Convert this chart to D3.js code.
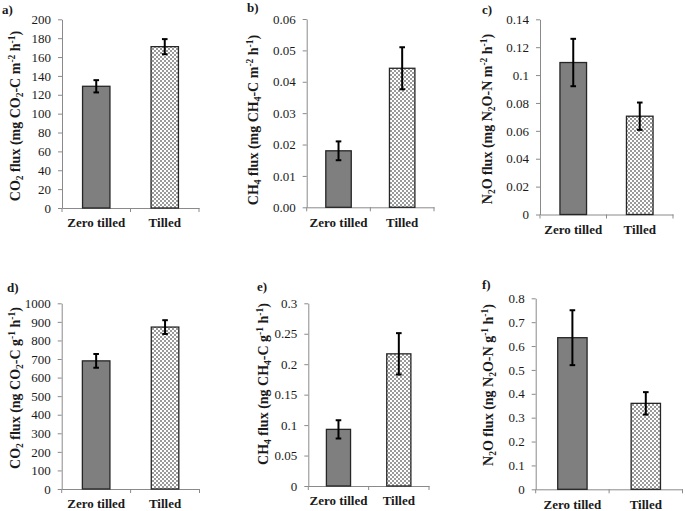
<!DOCTYPE html>
<html>
<head>
<meta charset="utf-8">
<script src="https://cdn.jsdelivr.net/npm/d3@7"></script>
<style>
  html, body { margin: 0; padding: 0; background: #fff; }
  svg { display: block; font-family: "Liberation Serif", "Times New Roman", serif; }
</style>
</head>
<body>
<svg id="chart" width="685" height="511"></svg>
<script>
// ---------------- DATA ----------------
const categories = ["Zero tilled", "Tilled"];
const panelLabels = ["a)", "b)", "c)", "d)", "e)", "f)"];
const yTitles = [
  "CO_{2} flux (mg CO_{2}-C m^{-2} h^{-1})",
  "CH_{4} flux (mg CH_{4}-C m^{-2} h^{-1})",
  "N_{2}O flux (mg N_{2}O-N m^{-2} h^{-1})",
  "CO_{2} flux (ng CO_{2}-C g^{-1} h^{-1})",
  "CH_{4} flux (ng CH_{4}-C g^{-1} h^{-1})",
  "N_{2}O flux (ng N_{2}O-N g^{-1} h^{-1})"
];
const co2Area = [129, 171];
const co2AreaErr = [6.5, 8];
const ch4Area = [0.018, 0.0443];
const ch4AreaErr = [0.003, 0.0067];
const n2oArea = [0.109, 0.0705];
const n2oAreaErr = [0.017, 0.0098];
const co2Soil = [690, 872];
const co2SoilErr = [37, 37];
const ch4Soil = [0.093, 0.217];
const ch4SoilErr = [0.015, 0.034];
const n2oSoil = [0.635, 0.36];
const n2oSoilErr = [0.115, 0.047];

const ticksA = [0, 20, 40, 60, 80, 100, 120, 140, 160, 180, 200];
const tickLabelsA = ["0", "20", "40", "60", "80", "100", "120", "140", "160", "180", "200"];
const ticksB = [0, 0.01, 0.02, 0.03, 0.04, 0.05, 0.06];
const tickLabelsB = ["0.00", "0.01", "0.02", "0.03", "0.04", "0.05", "0.06"];
const ticksC = [0, 0.02, 0.04, 0.06, 0.08, 0.1, 0.12, 0.14];
const tickLabelsC = ["0", "0.02", "0.04", "0.06", "0.08", "0.1", "0.12", "0.14"];
const ticksD = [0, 100, 200, 300, 400, 500, 600, 700, 800, 900, 1000];
const tickLabelsD = ["0", "100", "200", "300", "400", "500", "600", "700", "800", "900", "1000"];
const ticksE = [0, 0.05, 0.1, 0.15, 0.2, 0.25, 0.3];
const tickLabelsE = ["0", "0.05", "0.1", "0.15", "0.2", "0.25", "0.3"];
const ticksF = [0, 0.1, 0.2, 0.3, 0.4, 0.5, 0.6, 0.7, 0.8];
const tickLabelsF = ["0", "0.1", "0.2", "0.3", "0.4", "0.5", "0.6", "0.7", "0.8"];

// ---------------- LAYOUT ----------------
const layouts = [
  { x0: 62,    x1: 199,   yTop: 19.3,  yBot: 208,   tx: 15,  ty: 116, lx: 2,   ly: 14 },
  { x0: 306.7, x1: 434,   yTop: 19,    yBot: 207.3, tx: 253, ty: 120, lx: 247, ly: 12 },
  { x0: 540,   x1: 673,   yTop: 19.3,  yBot: 214.5, tx: 487, ty: 119, lx: 482, ly: 14 },
  { x0: 61.7,  x1: 199.5, yTop: 303.3, yBot: 489,   tx: 15,  ty: 388, lx: 7,   ly: 292 },
  { x0: 308.3, x1: 429,   yTop: 303.3, yBot: 486,   tx: 263, ty: 384, lx: 257, ly: 291 },
  { x0: 535.7, x1: 682.5, yTop: 298.3, yBot: 489.3, tx: 488, ty: 385, lx: 482, ly: 289 }
];

const panels = [
  { values: co2Area, errs: co2AreaErr, ticks: ticksA, labels: tickLabelsA },
  { values: ch4Area, errs: ch4AreaErr, ticks: ticksB, labels: tickLabelsB },
  { values: n2oArea, errs: n2oAreaErr, ticks: ticksC, labels: tickLabelsC },
  { values: co2Soil, errs: co2SoilErr, ticks: ticksD, labels: tickLabelsD },
  { values: ch4Soil, errs: ch4SoilErr, ticks: ticksE, labels: tickLabelsE },
  { values: n2oSoil, errs: n2oSoilErr, ticks: ticksF, labels: tickLabelsF }
].map((p, i) => Object.assign(p, layouts[i], { title: yTitles[i], label: panelLabels[i] }));

const axisColor = "#8a8a8a";
const fontFam = "'Liberation Serif', 'Times New Roman', serif";
const svg = d3.select("#chart");

// checker pattern
const defs = svg.append("defs");
const pat = defs.append("pattern").attr("id", "checker")
  .attr("patternUnits", "userSpaceOnUse").attr("width", 4).attr("height", 4);
pat.append("rect").attr("width", 4).attr("height", 4).attr("fill", "#ffffff");
pat.append("rect").attr("x", 0).attr("y", 0).attr("width", 2).attr("height", 2).attr("fill", "#9a9a9a");
pat.append("rect").attr("x", 2).attr("y", 2).attr("width", 2).attr("height", 2).attr("fill", "#9a9a9a");

const fills = ["#7f7f7f", "url(#checker)"];

function richText(sel, str) {
  const re = /([_^])\{([^}]*)\}/g;
  let last = 0, m;
  const parts = [];
  while ((m = re.exec(str)) !== null) {
    if (m.index > last) parts.push({ t: str.slice(last, m.index), k: "n" });
    parts.push({ t: m[2], k: m[1] === "_" ? "sub" : "sup" });
    last = re.lastIndex;
  }
  if (last < str.length) parts.push({ t: str.slice(last), k: "n" });
  let offset = 0;
  parts.forEach(p => {
    let target = p.k === "sub" ? 3 : p.k === "sup" ? -5 : 0;
    const ts = sel.append("tspan").text(p.t).attr("dy", target - offset);
    if (p.k !== "n") ts.attr("font-size", 9.5);
    offset = target;
  });
}

panels.forEach(p => {
  const g = svg.append("g");
  const y = d3.scaleLinear().domain([p.ticks[0], p.ticks[p.ticks.length - 1]]).range([p.yBot, p.yTop]);
  const x = d3.scaleBand().domain(categories).range([p.x0, p.x1]).paddingInner(0.6).paddingOuter(0.3);

  // y axis
  const ya = g.append("g").attr("transform", `translate(${p.x0},0)`)
    .call(d3.axisLeft(y).tickValues(p.ticks).tickFormat((d, i) => p.labels[i]).tickSize(4).tickSizeOuter(0).tickPadding(7));
  ya.attr("font-family", fontFam);
  ya.select(".domain").attr("stroke", axisColor).attr("stroke-width", 1);
  ya.selectAll(".tick line").attr("stroke", axisColor);
  ya.selectAll(".tick text").attr("font-size", 13).attr("fill", "#1a1a1a");

  // x axis
  const xa = g.append("g").attr("transform", `translate(0,${p.yBot})`)
    .call(d3.axisBottom(x).tickSize(0).tickSizeOuter(0).tickPadding(10));
  xa.attr("font-family", fontFam);
  xa.select(".domain").attr("stroke", axisColor).attr("stroke-width", 1);
  xa.selectAll(".tick text").attr("font-size", 13).attr("font-weight", "bold").attr("fill", "#1a1a1a");
  const r = x.range();
  const bounds = [r[0], r[0] + x.step(), r[1]];
  xa.selectAll(".bound").data(bounds).enter().append("line")
    .attr("x1", d => d).attr("x2", d => d).attr("y1", 0).attr("y2", 4)
    .attr("stroke", axisColor);

  // bars
  g.selectAll(".bar").data(p.values).enter().append("rect")
    .attr("x", (d, i) => x(categories[i]))
    .attr("width", x.bandwidth())
    .attr("y", d => y(d))
    .attr("height", d => y(0) - y(d))
    .attr("fill", (d, i) => fills[i])
    .attr("stroke", "#262626").attr("stroke-width", 1.3);

  // error bars
  p.values.forEach((v, i) => {
    const cx = x(categories[i]) + x.bandwidth() / 2;
    const hi = y(v + p.errs[i]), lo = y(v - p.errs[i]);
    g.append("line").attr("x1", cx).attr("x2", cx).attr("y1", hi).attr("y2", lo)
      .attr("stroke", "#000").attr("stroke-width", 2);
    [hi, lo].forEach(yy => g.append("line").attr("x1", cx - 2.8).attr("x2", cx + 2.8)
      .attr("y1", yy).attr("y2", yy).attr("stroke", "#000").attr("stroke-width", 2));
  });

  // y title
  const t = g.append("text")
    .attr("transform", `translate(${p.tx + 4.7},${p.ty}) rotate(-90)`)
    .attr("text-anchor", "middle").attr("font-size", 14).attr("font-weight", "bold").attr("fill", "#1a1a1a");
  richText(t, p.title);

  // panel label
  g.append("text").attr("x", p.lx).attr("y", p.ly).attr("font-size", 13).attr("font-weight", "bold")
    .attr("fill", "#1a1a1a").text(p.label);
});
</script>
</body>
</html>
